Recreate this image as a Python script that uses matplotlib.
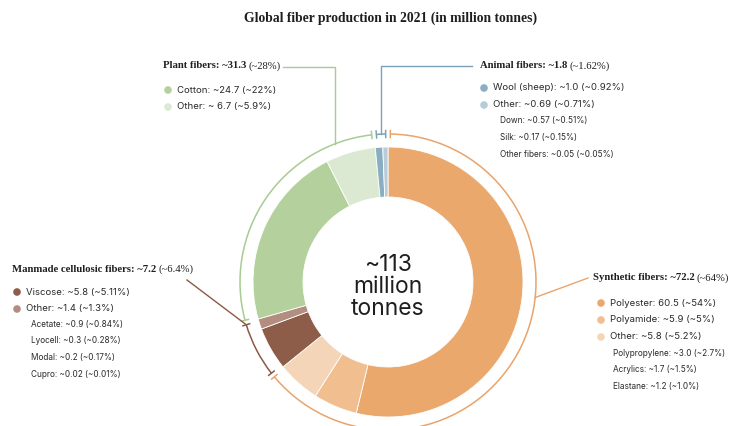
import numpy as np
import matplotlib.pyplot as plt
from matplotlib.patches import Arc

# Slices, clockwise from 12 o'clock
slice_names = ['Polyester', 'Polyamide', 'Synthetic other', 'Viscose', 'Cellulosic other',
               'Cotton', 'Plant other', 'Wool (sheep)', 'Animal other']
slice_values = [60.5, 5.9, 5.8, 5.8, 1.4, 24.7, 6.7, 1.0, 0.69]
slice_colors = ['#EAA86C', '#F0BE8F', '#F5D5B7', '#8D5D49', '#B38E80',
                '#B4D19D', '#DCE9D2', '#8AAEC1', '#B7CCD8']

# Fiber groups: which slices belong to each one
group_names = ['Synthetic fibers', 'Manmade cellulosic fibers', 'Plant fibers', 'Animal fibers']
group_totals = ['~72.2', '~7.2', '~31.3', '~1.8']
group_shares = ['(~64%)', '(~6.4%)', '(~28%)', '(~1.62%)']
group_slices = [[0, 1, 2], [3, 4], [5, 6], [7, 8]]
group_colors = ['#E9A46B', '#8B5A45', '#A8CB93', '#7BA2B8']

# Legend rows per group
legend_items = [
    ['Polyester: 60.5 (~54%)', 'Polyamide: ~5.9 (~5%)', 'Other: ~5.8 (~5.2%)'],
    ['Viscose: ~5.8 (~5.11%)', 'Other: ~1.4 (~1.3%)'],
    ['Cotton: ~24.7 (~22%)', 'Other: ~ 6.7 (~5.9%)'],
    ['Wool (sheep): ~1.0 (~0.92%)', 'Other: ~0.69 (~0.71%)'],
]
legend_subitems = [
    ['Polypropylene: ~3.0 (~2.7%)', 'Acrylics: ~1.7 (~1.5%)', 'Elastane: ~1.2 (~1.0%)'],
    ['Acetate: ~0.9 (~0.84%)', 'Lyocell: ~0.3 (~0.28%)', 'Modal: ~0.2 (~0.17%)', 'Cupro: ~0.02 (~0.01%)'],
    [],
    ['Down: ~0.57 (~0.51%)', 'Silk: ~0.17 (~0.15%)', 'Other fibers: ~0.05 (~0.05%)'],
]

title = 'Global fiber production in 2021 (in million tonnes)'
center_label = '~113\nmillion\ntonnes'

W, H = 733, 426
fig = plt.figure(figsize=(W / 100, H / 100), dpi=100)
ax = fig.add_axes([0, 0, 1, 1])

def py(y):
    # pixel row (top-down) to data y
    return H - y

cx, cy = 388, py(282)
R_out, R_in, R_arc = 135, 85, 148

ax.pie(slice_values, colors=slice_colors, radius=R_out, center=(cx, cy),
       startangle=90, counterclock=False, frame=True,
       wedgeprops=dict(width=R_out - R_in, edgecolor='white', linewidth=0.6))

ax.set_xlim(0, W)
ax.set_ylim(0, H)
ax.set_aspect('equal')
ax.axis('off')

total = sum(slice_values)
cum = np.concatenate([[0], np.cumsum(slice_values)]) / total

def ang(frac):
    return 90 - frac * 360

def polar(a, r):
    return cx + r * np.cos(np.radians(a)), cy + r * np.sin(np.radians(a))

# Bracket arcs around each group, with small end ticks
gap = 0.9
arc_ends = []
for gi, idx in enumerate(group_slices):
    a_start = ang(cum[idx[-1] + 1]) + gap
    a_end = ang(cum[idx[0]]) - gap
    ax.add_patch(Arc((cx, cy), 2 * R_arc, 2 * R_arc, theta1=a_start, theta2=a_end,
                     color=group_colors[gi], lw=1.1))
    for a in (a_start, a_end):
        x0, y0 = polar(a, R_arc - 3.5)
        x1, y1 = polar(a, R_arc + 3.5)
        ax.plot([x0, x1], [y0, y1], color=group_colors[gi], lw=1.1)
    arc_ends.append((a_start, a_end))

# Leader lines from the arcs to the group headings
# synthetic
sx, sy = polar(-6, R_arc)
ax.plot([sx, 588], [sy, py(278)], color=group_colors[0], lw=1.0)
# manmade cellulosic
mx, my = polar(arc_ends[1][0], R_arc)
ax.plot([187, mx], [py(280), my], color=group_colors[1], lw=1.0)
# plant
px_ = 335
pa = np.degrees(np.arccos((px_ - cx) / R_arc))
_, pyy = polar(pa, R_arc)
ax.plot([px_, px_, 283], [pyy, py(67), py(67)], color=group_colors[2], lw=1.0)
# animal
amid = (arc_ends[3][0] + arc_ends[3][1]) / 2
axx, ayy = polar(amid, R_arc)
ax.plot([axx, axx, 472], [ayy, py(66), py(66)], color=group_colors[3], lw=1.0)

renderer = fig.canvas.get_renderer()
serif = 'Liberation Serif'
sans = 'Inter'

def heading(x, y, gi):
    t = ax.text(x, py(y), f'{group_names[gi]}: {group_totals[gi]}', family=serif,
                fontweight='bold', fontsize=7.7, color='#1e1e1e', va='center', ha='left')
    bb = t.get_window_extent(renderer=renderer)
    x_end = ax.transData.inverted().transform((bb.x1, bb.y0))[0]
    ax.text(x_end + 2, py(y), group_shares[gi], family=serif, fontsize=7.7,
            color='#1e1e1e', va='center', ha='left')

def block(gi, hx, hy, dot_x, item_y, step, sub_x, sub_y, sub_step):
    heading(hx, hy, gi)
    idx = group_slices[gi]
    for k, label in enumerate(legend_items[gi]):
        yk = item_y + k * step
        ax.scatter([dot_x], [py(yk)], s=30, color=slice_colors[idx[k]], edgecolors='none', zorder=3)
        ax.text(dot_x + 9, py(yk), label, family=sans, fontsize=6.9, color='#2a2a2a',
                va='center', ha='left')
    for k, label in enumerate(legend_subitems[gi]):
        ax.text(sub_x, py(sub_y + k * sub_step), label, family=sans, fontsize=5.9,
                color='#2a2a2a', va='center', ha='left')

block(0, 593, 278, 601, 303, 17, 613, 353, 16.7)
block(1, 12, 269, 17, 292, 17, 31, 324, 16.7)
block(2, 163, 66, 168, 90, 17, 0, 0, 0)
block(3, 480, 66, 484, 88, 17, 500, 121, 16.5)

ax.text(cx, py(287), center_label, family=sans, fontsize=16.5, color='#1e1e1e',
        ha='center', va='center', linespacing=1.02)

ax.text(391, py(18), title, family=serif, fontweight='bold', fontsize=9.8,
        color='#1e1e1e', ha='center', va='center')

fig.savefig('out.png', dpi=100, facecolor='white')
